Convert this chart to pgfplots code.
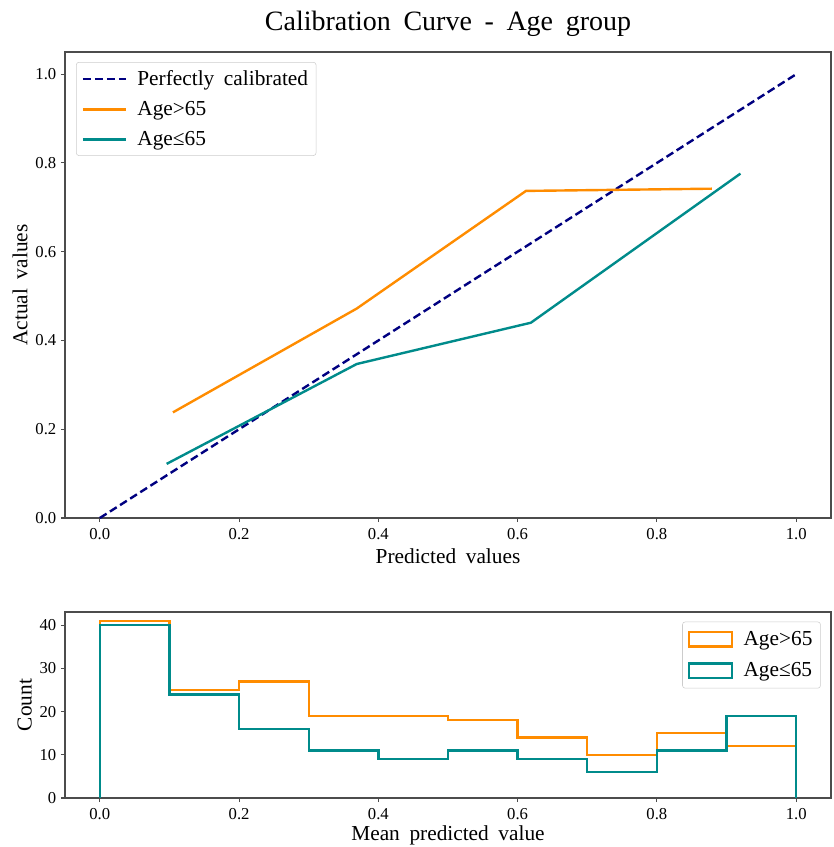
\documentclass[border=0pt]{standalone}
\usepackage{fontspec}
\setmainfont[WordSpace=1.8]{Liberation Serif}
\usepackage{pgfplots}
\pgfplotsset{compat=1.18}
\definecolor{dorange}{HTML}{FF8C00}
\definecolor{dcyan}{HTML}{008B8B}
\definecolor{navyc}{HTML}{000080}
\pgfplotsset{
  base/.style={
    scale only axis, width=574.5pt,
    axis line style={black!70, line width=0.8pt},
    tick style={black!70, line width=0.8pt},
    tick align=outside, xtick pos=bottom, ytick pos=left,
    major tick length=3pt,
    ticklabel style={font=\fontsize{12.5}{14}\selectfont},
    xticklabel style={yshift=-1.5pt},
    /pgf/number format/assume math mode=true,
    label style={font=\fontsize{16}{19}\selectfont},
    xmin=-0.05, xmax=1.05,
    xtick={0,0.2,0.4,0.6,0.8,1.0},
    xticklabel style={/pgf/number format/.cd, fixed, fixed zerofill, precision=1},
    legend cell align=left,
    legend style={draw=black!20, rounded corners=2pt, fill=white, fill opacity=0.8, text opacity=1,
      font=\fontsize{16}{19}\selectfont, row sep=6.5pt, inner xsep=4pt, inner ysep=4pt,
      /tikz/every odd column/.append style={column sep=6pt}},
  }
}
\begin{document}
\begin{tikzpicture}
\path[use as bounding box] (-48.75pt,-246.75pt) rectangle (576pt,388.5pt);
\begin{axis}[base,
  height=349.5pt,
  ymin=0, ymax=1.05,
  ytick={0,0.2,0.4,0.6,0.8,1.0},
  yticklabel style={/pgf/number format/.cd, fixed, fixed zerofill, precision=1},
  xlabel={Predicted values}, ylabel={Actual values},
  xlabel style={yshift=0pt}, ylabel style={yshift=-1pt},
  title={Calibration Curve - Age group},
  title style={font=\fontsize{21}{25}\selectfont, yshift=2pt},
  legend style={at={(0.0144,0.9785)}, anchor=north west},
  legend image code/.code={\draw[#1] (0pt,0pt) -- (32pt,0pt);},
]
\addplot[navyc, line width=1.8pt, dash pattern=on 6pt off 3pt] coordinates {(0,0) (1,1)};
\addlegendentry{Perfectly calibrated}
\addplot[dorange, line width=1.8pt] coordinates {(0.105,0.238) (0.369,0.472) (0.612,0.737) (0.879,0.742)};
\addlegendentry{Age>65}
\addplot[dcyan, line width=1.8pt] coordinates {(0.096,0.122) (0.369,0.347) (0.619,0.440) (0.920,0.776)};
\addlegendentry{Age≤65}
\end{axis}
\begin{axis}[base,
  at={(0pt,-70.5pt)}, anchor=north west,
  height=139.5pt,
  ymin=0, ymax=43.05,
  ytick={0,10,20,30,40},
  xlabel={Mean predicted value}, ylabel={Count},
  xlabel style={yshift=2.5pt}, ylabel style={yshift=-1pt},
  legend style={at={(0.9866,0.948)}, anchor=north east, row sep=7.5pt, inner ysep=5pt},
  legend image code/.code={\draw[#1, line width=1.8pt, sharp corners, line join=miter] (0pt,-5.5pt) rectangle (32pt,5.5pt);},
]
\addplot[dorange, line width=1.8pt, const plot mark left] coordinates {(0,0) (0,41) (0.1,25) (0.2,27) (0.3,19) (0.4,19) (0.5,18) (0.6,14) (0.7,10) (0.8,15) (0.9,12) (1.0,12) (1.0,0)};
\addlegendentry{Age>65}
\addplot[dcyan, line width=1.8pt, const plot mark left] coordinates {(0,0) (0,40) (0.1,24) (0.2,16) (0.3,11) (0.4,9) (0.5,11) (0.6,9) (0.7,6) (0.8,11) (0.9,19) (1.0,19) (1.0,0)};
\addlegendentry{Age≤65}
\end{axis}
\end{tikzpicture}
\end{document}
